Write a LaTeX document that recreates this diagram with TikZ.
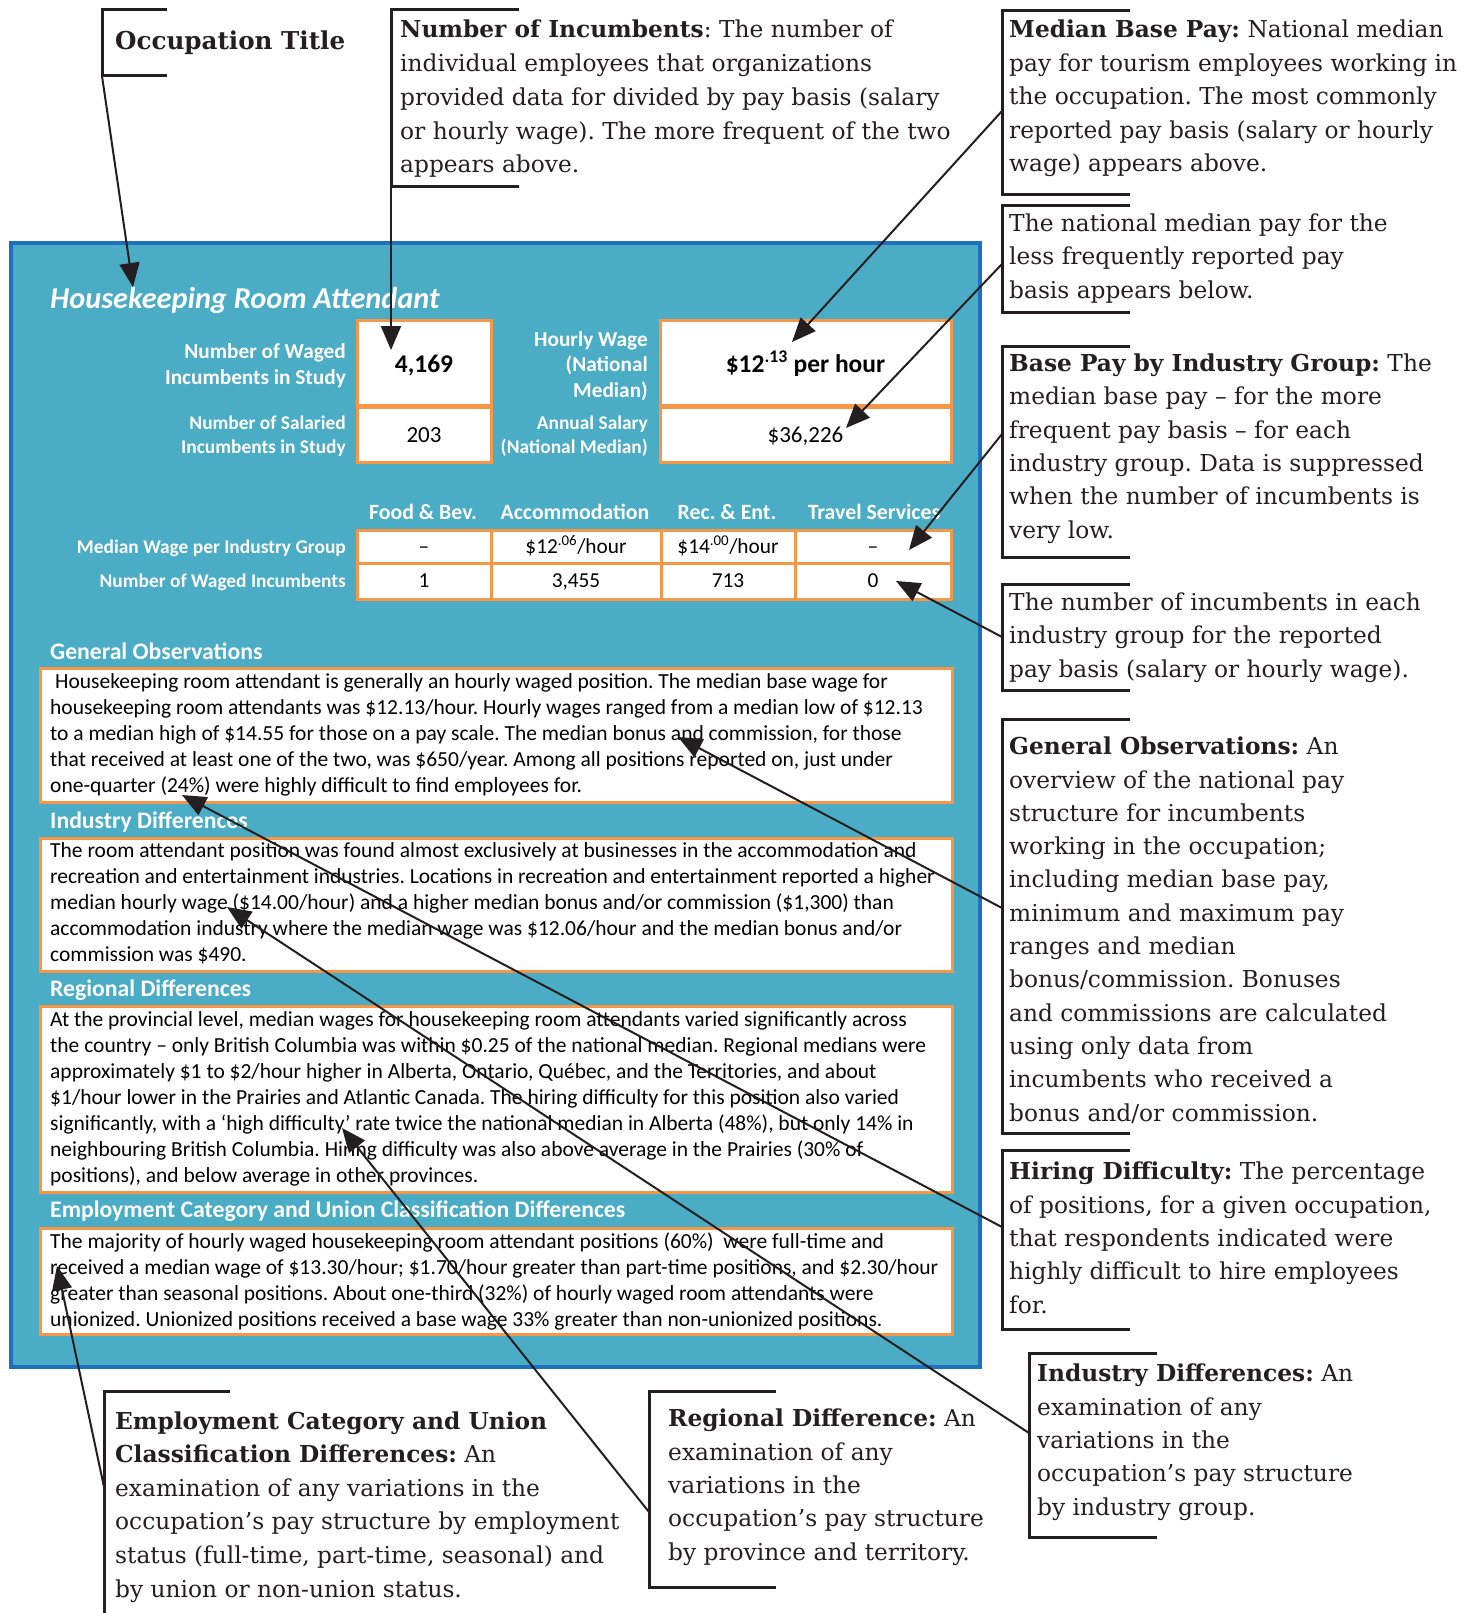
\documentclass[tikz,border=0pt]{standalone}
\usepackage{fontspec}
\setmainfont{DejaVu Serif}
\newfontfamily\calib{Carlito}
\usetikzlibrary{arrows.meta}
\frenchspacing
\definecolor{panelblue}{HTML}{4BACC6}
\definecolor{paneledge}{HTML}{1F6FBF}
\definecolor{orangeedge}{HTML}{F79646}
\definecolor{ink}{HTML}{231F20}
\tikzset{
  bracketline/.style={draw=ink, line width=3pt},
  callout/.style={draw=ink, line width=2pt, -{Triangle[length=24pt,width=20pt]}},
  note/.style={anchor=base west, align=left, inner sep=0pt, text=ink, font=\frenchspacing\fontsize{23.3pt}{33.3pt}\selectfont},
  obox/.style={draw=orangeedge, line width=3pt, fill=white, inner sep=0pt},
  bodytext/.style={anchor=base west, align=left, inner sep=0pt, text=black, font=\frenchspacing\calib\fontsize{21.5pt}{26pt}\selectfont},
  heading/.style={anchor=base west, inner sep=0pt, text=white, font=\calib\bfseries\fontsize{23.7pt}{26pt}\selectfont},
  lbl/.style={anchor=base east, align=right, inner sep=0pt, text=white, font=\calib\bfseries\fontsize{21.3pt}{25.5pt}\selectfont},
  lblsmall/.style={lbl, font=\calib\bfseries\fontsize{19.4pt}{24pt}\selectfont},
  rowlbl/.style={anchor=base east, inner sep=0pt, text=white, font=\calib\bfseries\fontsize{19.4pt}{24pt}\selectfont},
  colhead/.style={anchor=base, inner sep=0pt, text=white, font=\frenchspacing\calib\bfseries\fontsize{21.8pt}{24pt}\selectfont},
  cell/.style={obox, text=black, font=\calib\fontsize{21.3pt}{24pt}\selectfont, text depth=0pt},
  bigval/.style={obox, text=black, minimum height=85pt, text height=19pt, text depth=0pt, font=\calib\bfseries\fontsize{25.5pt}{27pt}\selectfont},
  smallval/.style={obox, text=black, minimum height=55pt, text height=15pt, text depth=0pt, font=\calib\fontsize{23pt}{25pt}\selectfont},
}
\begin{document}
\begin{tikzpicture}[x=1pt,y=-1pt]
\path[use as bounding box, fill=white] (0,0) rectangle (1476,1613);

% ---------------- panel ----------------
\draw[draw=paneledge, line width=4pt, fill=panelblue] (11,243) rectangle (980,1367);
\node[anchor=base west, inner sep=0pt, text=white, font=\calib\bfseries\itshape\fontsize{30.3pt}{32pt}\selectfont] (occname) at (50,308) {Housekeeping Room Attendant};

% multi-line nodes are anchored at the baseline of their last line
\node[lbl] (lblWaged) at (346,384) {Number of Waged\\Incumbents in Study};
\node[lblsmall] (lblSal) at (346,453) {Number of Salaried\\Incumbents in Study};
\node[lbl] (lblHourly) at (648,397) {Hourly Wage\\(National\\Median)};
\node[lblsmall] (lblAnnual) at (648,453) {Annual Salary\\(National Median)};

\node[bigval, minimum width=134pt] (vWaged) at (424,362.5) {4,169};
\node[smallval, minimum width=134pt] (vSal) at (424,434.5) {203};
\node[bigval, minimum width=291pt] (vHourly) at (805.5,362.5) {\$12\textsuperscript{.13} per hour};
\node[smallval, minimum width=291pt] (vAnnual) at (805.5,434.5) {\$36,226};

\node[colhead] (hFood) at (423,519) {Food \& Bev.};
\node[colhead] (hAcc) at (575,519) {Accommodation};
\node[colhead] (hRec) at (727,519) {Rec. \& Ent.};
\node[colhead] (hTravel) at (874,519) {Travel Services};

\node[rowlbl] (lblMedInd) at (346,553) {Median Wage per Industry Group};
\node[rowlbl] (lblNumInd) at (346,587) {Number of Waged Incumbents};

\node[cell, minimum width=134pt, minimum height=33pt, text height=13pt] (c11) at (424,546.5) {–};
\node[cell, minimum width=170pt, minimum height=33pt, text height=13pt] (c12) at (576,546.5) {\$12\textsuperscript{.06}/hour};
\node[cell, minimum width=134pt, minimum height=33pt, text height=13pt] (c13) at (728,546.5) {\$14\textsuperscript{.00}/hour};
\node[cell, minimum width=156pt, minimum height=33pt, text height=13pt] (c14) at (873,546.5) {–};
\node[cell, minimum width=134pt, minimum height=36pt, text height=12pt] (c21) at (424,581) {1};
\node[cell, minimum width=170pt, minimum height=36pt, text height=12pt] (c22) at (576,581) {3,455};
\node[cell, minimum width=134pt, minimum height=36pt, text height=12pt] (c23) at (728,581) {713};
\node[cell, minimum width=156pt, minimum height=36pt, text height=12pt] (c24) at (873,581) {0};

% paragraphs
\node[heading] (hGen) at (50,659) {General Observations};
\node[obox, anchor=north west, minimum width=912pt, minimum height=134pt] (boxGen) at (39,667) {};
\node[bodytext] (tGen) at (50,792) {\hspace{5pt}Housekeeping room attendant is generally an hourly waged position. The median base wage for\\
housekeeping room attendants was \$12.13/hour. Hourly wages ranged from a median low of \$12.13\\
to a median high of \$14.55 for those on a pay scale. The median bonus and commission, for those\\
that received at least one of the two, was \$650/year. Among all positions reported on, just under\\
one-quarter (24\%) were highly difficult to find employees for.};

\node[heading] (hInd) at (50,828) {Industry Differences};
\node[obox, anchor=north west, minimum width=912pt, minimum height=133pt] (boxInd) at (39,837) {};
\node[bodytext] (tInd) at (50,961) {The room attendant position was found almost exclusively at businesses in the accommodation and\\
recreation and entertainment industries. Locations in recreation and entertainment reported a higher\\
median hourly wage (\$14.00/hour) and a higher median bonus and/or commission (\$1,300) than\\
accommodation industry where the median wage was \$12.06/hour and the median bonus and/or\\
commission was \$490.};

\node[heading] (hReg) at (50,996) {Regional Differences};
\node[obox, anchor=north west, minimum width=912pt, minimum height=186pt] (boxReg) at (39,1005) {};
\node[bodytext] (tReg) at (50,1182) {At the provincial level, median wages for housekeeping room attendants varied significantly across\\
the country – only British Columbia was within \$0.25 of the national median. Regional medians were\\
approximately \$1 to \$2/hour higher in Alberta, Ontario, Québec, and the Territories, and about\\
\$1/hour lower in the Prairies and Atlantic Canada. The hiring difficulty for this position also varied\\
significantly, with a ‘high difficulty’ rate twice the national median in Alberta (48\%), but only 14\% in\\
neighbouring British Columbia. Hiring difficulty was also above average in the Prairies (30\% of\\
positions), and below average in other provinces.};

\node[heading] (hEmp) at (50,1217) {Employment Category and Union Classification Differences};
\node[obox, anchor=north west, minimum width=912pt, minimum height=106pt] (boxEmp) at (39,1227) {};
\node[bodytext] (tEmp) at (50,1326) {The majority of hourly waged housekeeping room attendant positions (60\%) \ were full-time and\\
received a median wage of \$13.30/hour; \$1.70/hour greater than part-time positions, and \$2.30/hour\\
greater than seasonal positions. About one-third (32\%) of hourly waged room attendants were\\
unionized. Unionized positions received a base wage 33\% greater than non-unionized positions.};

% ---------------- annotations ----------------
\draw[bracketline] (167,10) -- (102,10) -- (102,76) -- (167,76);
\node[anchor=base west, inner sep=0pt, text=ink, font=\bfseries\fontsize{24.6pt}{30pt}\selectfont] (nOcc) at (115,50) {Occupation Title};

\draw[bracketline] (519,10) -- (391,10) -- (391,187) -- (519,187);
\node[note, font=\frenchspacing\fontsize{23.3pt}{33.75pt}\selectfont] (nNum) at (400,173) {\textbf{Number of Incumbents}: The number of\\
individual employees that organizations\\
provided data for divided by pay basis (salary\\
or hourly wage). The more frequent of the two\\
appears above.};

\draw[bracketline] (1130,11) -- (1002,11) -- (1002,195) -- (1130,195);
\node[note, font=\frenchspacing\fontsize{23.3pt}{33.5pt}\selectfont] (nMed) at (1009,172) {\textbf{Median Base Pay:} National median\\
pay for tourism employees working in\\
the occupation. The most commonly\\
reported pay basis (salary or hourly\\
wage) appears above.};

\draw[bracketline] (1130,206) -- (1002,206) -- (1002,312) -- (1130,312);
\node[note] (nLess) at (1009,298) {The national median pay for the\\
less frequently reported pay\\
basis appears below.};

\draw[bracketline] (1130,346) -- (1002,346) -- (1002,557) -- (1130,557);
\node[note] (nBase) at (1009,538) {\textbf{Base Pay by Industry Group:} The\\
median base pay – for the more\\
frequent pay basis – for each\\
industry group. Data is suppressed\\
when the number of incumbents is\\
very low.};

\draw[bracketline] (1130,584) -- (1002,584) -- (1002,690) -- (1130,690);
\node[note] (nCount) at (1009,677) {The number of incumbents in each\\
industry group for the reported\\
pay basis (salary or hourly wage).};

\draw[bracketline] (1130,719) -- (1002,719) -- (1002,1133) -- (1130,1133);
\node[note] (nGen) at (1009,1121) {\textbf{General Observations:} An\\
overview of the national pay\\
structure for incumbents\\
working in the occupation;\\
including median base pay,\\
minimum and maximum pay\\
ranges and median\\
bonus/commission. Bonuses\\
and commissions are calculated\\
using only data from\\
incumbents who received a\\
bonus and/or commission.};

\draw[bracketline] (1130,1150) -- (1002,1150) -- (1002,1329) -- (1130,1329);
\node[note] (nHire) at (1009,1313) {\textbf{Hiring Difficulty:} The percentage\\
of positions, for a given occupation,\\
that respondents indicated were\\
highly difficult to hire employees\\
for.};

\draw[bracketline] (1157,1353) -- (1029,1353) -- (1029,1537) -- (1157,1537);
\node[note] (nInd) at (1037,1515) {\textbf{Industry Differences:} An\\
examination of any\\
variations in the\\
occupation’s pay structure\\
by industry group.};

\draw[bracketline] (776,1391) -- (649,1391) -- (649,1587) -- (776,1587);
\node[note] (nReg) at (668,1560) {\textbf{Regional Difference:} An\\
examination of any\\
variations in the\\
occupation’s pay structure\\
by province and territory.};

\draw[bracketline] (230,1391) -- (104,1391) -- (104,1613);
\node[note, font=\frenchspacing\fontsize{23.3pt}{33.6pt}\selectfont] (nEmp) at (115,1597) {\textbf{Employment Category and Union}\\
\textbf{Classification Differences:} An\\
examination of any variations in the\\
occupation’s pay structure by employment\\
status (full-time, part-time, seasonal) and\\
by union or non-union status.};

% ---------------- connectors ----------------
\coordinate (sOcc) at (102,76);    \coordinate (pOcc) at (133,287);
\coordinate (sNum) at (391,187);   \coordinate (pNum) at (391,350);
\coordinate (sMed) at (1002,111);  \coordinate (pMed) at (792,342);
\coordinate (sLess) at (1002,264); \coordinate (pLess) at (846,428);
\coordinate (sBase) at (1002,434); \coordinate (pBase) at (909,550);
\coordinate (sCount) at (1002,637);\coordinate (pCount) at (896,581);
\coordinate (sGen) at (1002,908);  \coordinate (pGen) at (678,737);
\coordinate (sHire) at (1002,1227);\coordinate (pHire) at (182,795);
\coordinate (sInd) at (1029,1433); \coordinate (pInd) at (227,907);
\coordinate (sReg) at (649,1512);  \coordinate (pReg) at (342,1128);
\coordinate (sEmp) at (104,1487);  \coordinate (pEmp) at (57,1266);

\foreach \n in {Occ,Num,Med,Less,Base,Count,Gen,Hire,Ind,Reg,Emp}
  \draw[callout] (s\n) -- (p\n);
\end{tikzpicture}
\end{document}
